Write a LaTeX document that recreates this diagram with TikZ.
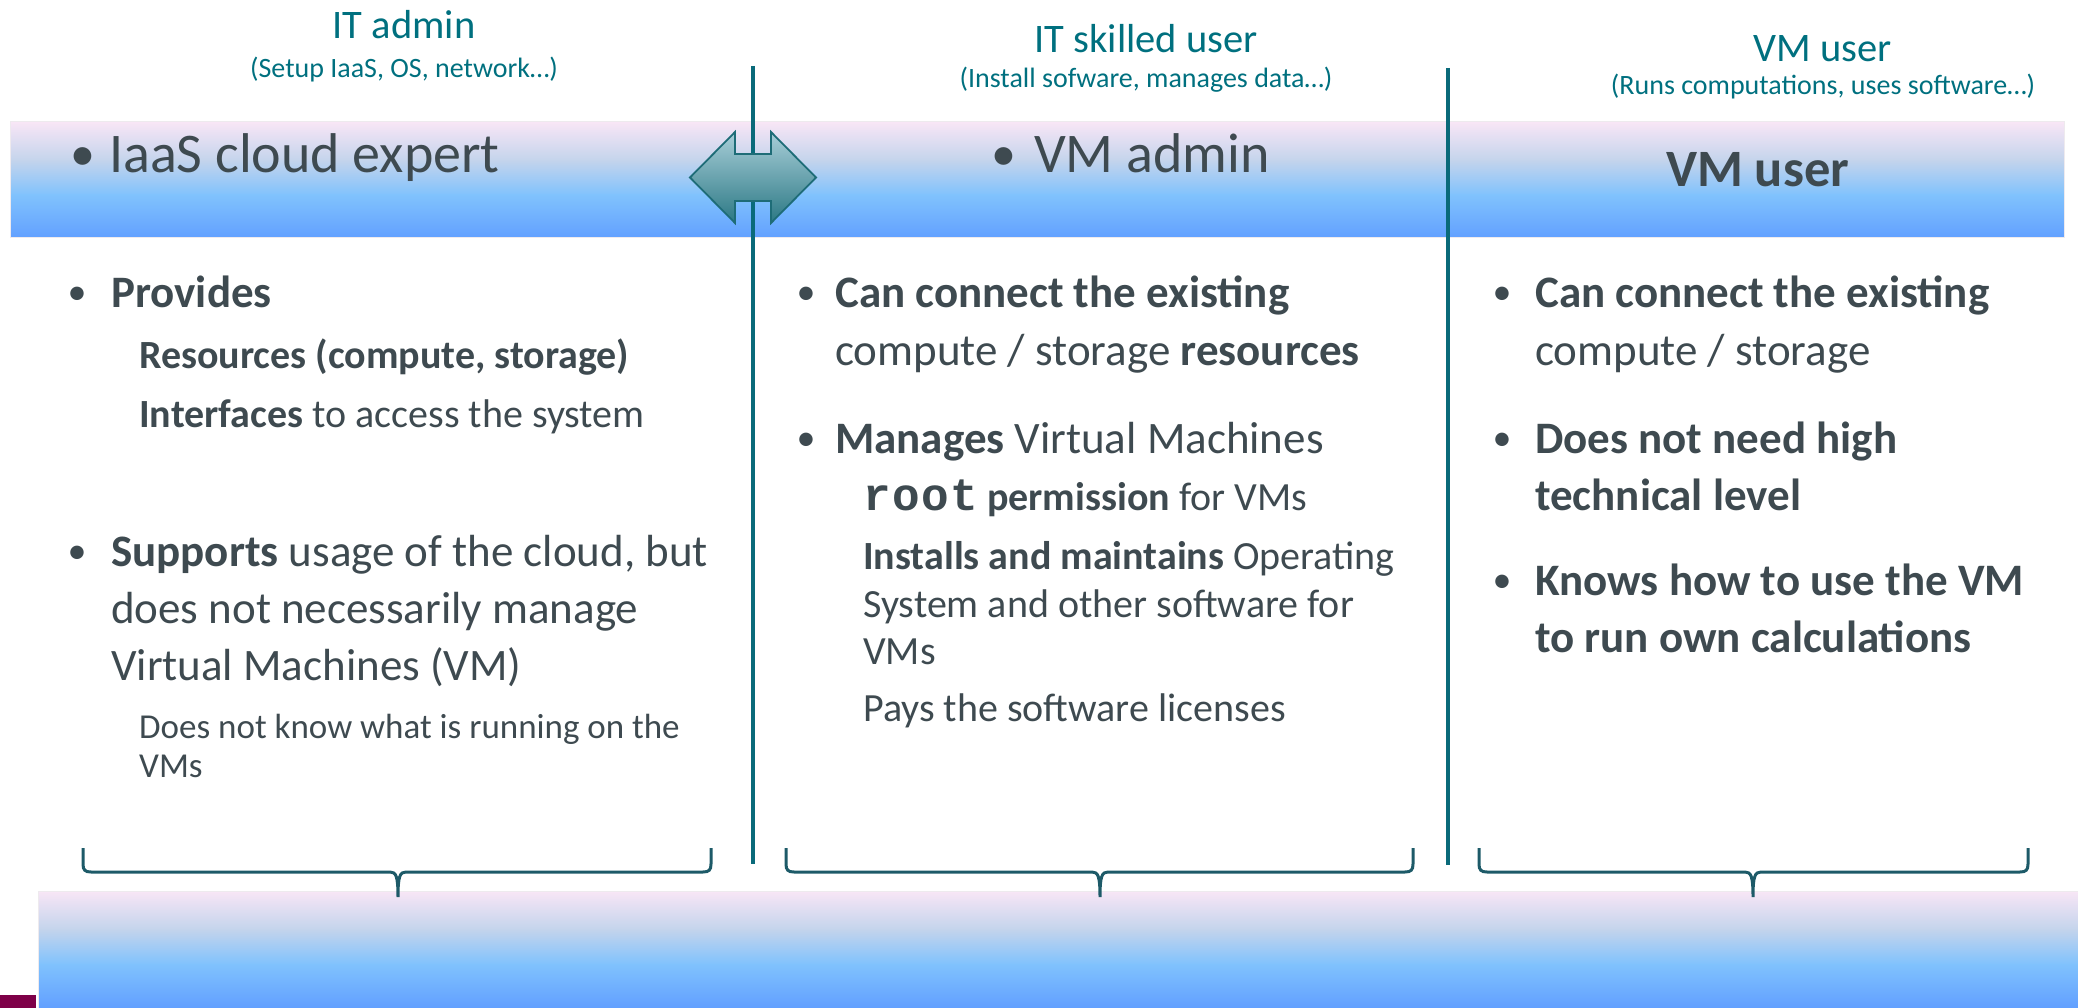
\documentclass[tikz,border=0pt]{standalone}
\usepackage{fontspec}
\setmainfont{Carlito}
\setmonofont{Liberation Mono}
\definecolor{tealt}{HTML}{00707F}
\definecolor{txt}{HTML}{3E4A50}
\definecolor{linec}{HTML}{0A6A7A}
\definecolor{bracec}{HTML}{1D5A68}
\definecolor{bandA}{HTML}{F8E6F6}
\definecolor{bandB}{HTML}{C4D4EC}
\definecolor{bandC}{HTML}{80C2FD}
\definecolor{bandD}{HTML}{62A0FF}
\definecolor{arrTop}{HTML}{A8CED8}
\definecolor{arrBot}{HTML}{2B7884}
\definecolor{arrEdge}{HTML}{1E6C77}
\definecolor{magsq}{HTML}{7E0048}
\tikzset{
  txtbase/.style={anchor=base west, inner sep=0pt, text=txt},
  mainline/.style={txtbase, font=\fontsize{45}{52}\selectfont},
  subline/.style={txtbase, font=\fontsize{40}{46}\selectfont},
  smallline/.style={txtbase, font=\fontsize{35}{40}\selectfont},
  bul/.style={anchor=base, inner sep=0pt, text=txt, font=\fontsize{38}{44}\selectfont},
  bandtxt/.style={txtbase, font=\fontsize{56}{64}\selectfont},
  title/.style={anchor=base, inner sep=0pt, text=tealt, font=\fontsize{40.5}{48}\selectfont},
  subtitle/.style={anchor=base, inner sep=0pt, text=tealt, font=\fontsize{28}{32}\selectfont},
  vline/.style={draw=linec, line width=4pt},
  bracepath/.style={draw=bracec, line width=3pt},
}
\newcommand{\bandshade}[2]{%
  \shade[top color=bandA,bottom color=bandB] (#1,#2) rectangle (2078,#2+38.5);
  \shade[top color=bandB,bottom color=bandC] (#1,#2+38) rectangle (2078,#2+73.5);
  \shade[top color=bandC,bottom color=bandD] (#1,#2+73) rectangle (2078,#2+116);
}
\newcommand{\mybrace}[3]{%
  \draw[bracepath] (#1,848) -- (#1,864) .. controls (#1,870) and (#1+2,872) .. (#1+8,872)
    -- (#3-8,872) .. controls (#3-2,872) and (#3,876) .. (#3,897)
    .. controls (#3,876) and (#3+2,872) .. (#3+8,872)
    -- (#2-8,872) .. controls (#2-2,872) and (#2,870) .. (#2,864) -- (#2,848);
}
\newcommand{\rootword}{{\fontsize{46}{46}\selectfont\ttfamily\bfseries r\kern1.5pt o\kern1.5pt o\kern1.5pt t}}
\begin{document}
\begin{tikzpicture}[x=1pt,y=-1pt]
\useasboundingbox (0,0) rectangle (2078,1008);
% header band
\begin{scope}
\clip (10,122) rectangle (2064,238);
\bandshade{10}{122}
\end{scope}
\draw[bandA!80!black!30, line width=1pt] (10,122) rectangle (2064,238);
% bottom band
\bandshade{38}{891}
\draw[bandA!80!black!30, line width=1pt] (38,891) -- (2078,891);
\draw[bandA!80!black!30, line width=1pt] (38,891) -- (38,1008);
\fill[magsq] (0,995) rectangle (36,1008);

% vertical separators
\coordinate (s1t) at (753,66);
\coordinate (s1b) at (753,864);
\coordinate (s2t) at (1448,68);
\coordinate (s2b) at (1448,865);
\draw[vline] (s1t) -- (s1b);
\draw[vline] (s2t) -- (s2b);

% double arrow
\draw[arrEdge, line width=1.8pt, top color=arrTop, bottom color=arrBot, line join=miter]
  (690,177.5) -- (735,132) -- (735,154) -- (771,154) -- (771,132) -- (816,177.5)
  -- (771,223) -- (771,201) -- (735,201) -- (735,223) -- cycle;

% column titles
\node[title] (t1) at (404,39) {IT admin};
\node[subtitle] (t1s) at (404,78) {(Setup IaaS, OS, network…)};
\node[title] (t2) at (1146,53) {IT skilled user};
\node[subtitle] (t2s) at (1146,88) {(Install sofware, manages data…)};
\node[title] (t3) at (1823,62) {VM user};
\node[subtitle] (t3s) at (1823,95) {(Runs computations, uses software…)};

% band texts
\node[bul, font=\fontsize{50}{60}\selectfont] (hb1) at (83,171) {•};
\node[bandtxt] (h1) at (109,173) {IaaS cloud expert};
\node[bul, font=\fontsize{50}{60}\selectfont] (hb2) at (1004,171) {•};
\node[bandtxt] (h2) at (1034,173) {VM admin};
\node[bandtxt, font=\fontsize{52.5}{60}\selectfont\bfseries] (h3) at (1666,187) {VM user};

% column 1
\node[bul] (b11) at (77,305) {•};
\node[mainline] (p1) at (111,308) {\textbf{Provides}};
\node[subline] (p1a) at (139,369) {\textbf{Resources (compute, storage)}};
\node[subline] (p1b) at (139,427) {\textbf{Interfaces} to access the system};
\node[bul] (b12) at (77,563) {•};
\node[mainline] (p2) at (111,566) {\textbf{Supports} usage of the cloud, but};
\node[mainline] (p2b) at (111,623) {does not necessarily manage};
\node[mainline] (p2c) at (111,680) {Virtual Machines (VM)};
\node[smallline] (p2d) at (139,738) {Does not know what is running on the};
\node[smallline] (p2e) at (139,777) {VMs};

% column 2
\node[bul] (b21) at (806,305) {•};
\node[mainline] (q1) at (835,308) {\textbf{Can connect the existing}};
\node[mainline] (q1b) at (835,366) {compute / storage \textbf{resources}};
\node[bul] (b22) at (806,450) {•};
\node[mainline] (q2) at (835,453) {\textbf{Manages} Virtual Machines};
\node[subline] (q2a) at (863,510) {\rootword\ \textbf{permission} for VMs};
\node[subline] (q2b) at (863,569) {\textbf{Installs and maintains} Operating};
\node[subline] (q2c) at (863,617) {System and other software for};
\node[subline] (q2d) at (863,664) {VMs};
\node[subline] (q2e) at (863,721) {Pays the software licenses};

% column 3
\node[bul] (b31) at (1502,305) {•};
\node[mainline] (r1) at (1535,308) {\textbf{Can connect the existing}};
\node[mainline] (r1b) at (1535,366) {compute / storage};
\node[bul] (b32) at (1502,450) {•};
\node[mainline] (r2) at (1535,453) {\textbf{Does not need high}};
\node[mainline] (r2b) at (1535,510) {\textbf{technical level}};
\node[bul] (b33) at (1502,592) {•};
\node[mainline] (r3) at (1535,595) {\textbf{Knows how to use the VM}};
\node[mainline] (r3b) at (1535,652) {\textbf{to run own calculations}};

% braces
\mybrace{83}{711}{398}
\mybrace{786}{1413}{1100}
\mybrace{1479}{2028}{1753}
\end{tikzpicture}
\end{document}
